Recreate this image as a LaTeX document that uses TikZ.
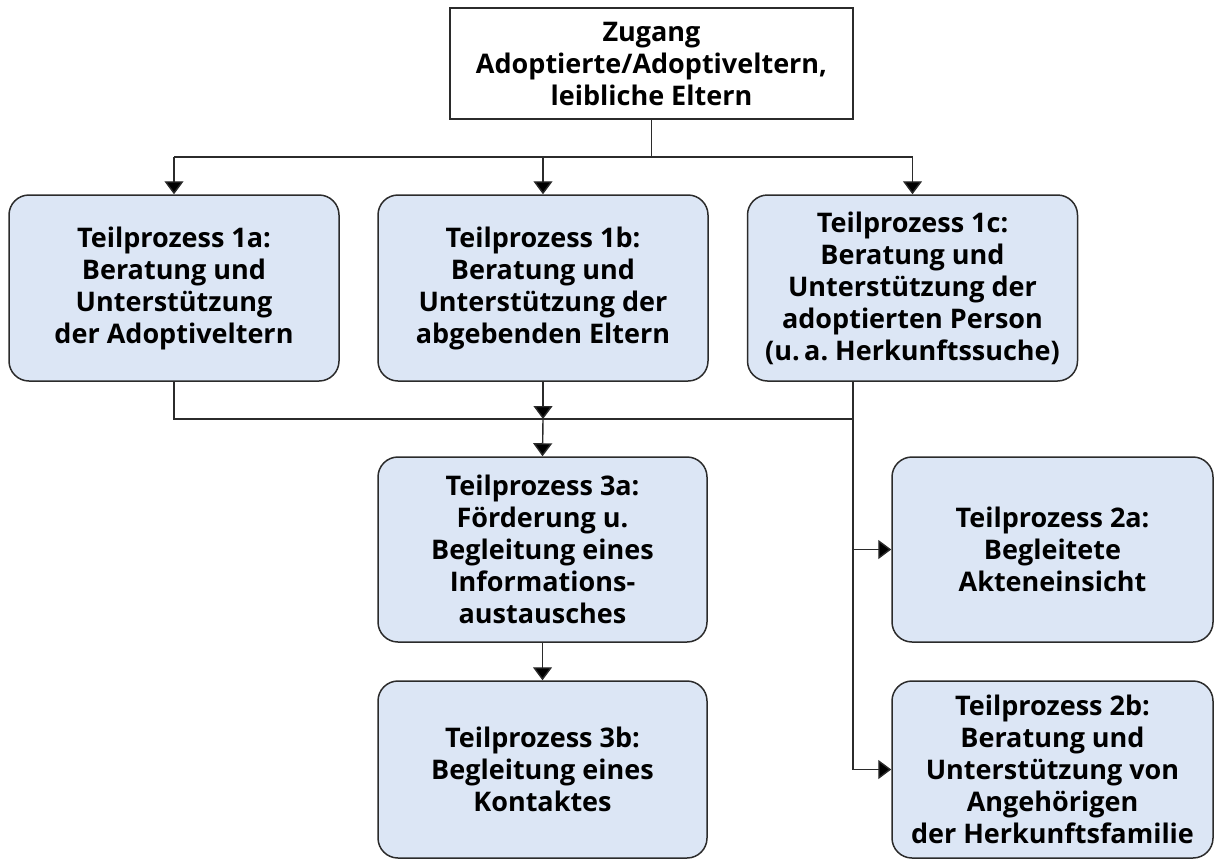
\documentclass[tikz,border=0pt]{standalone}
\usepackage{fontspec}
\setmainfont{Open Sans}
\usetikzlibrary{arrows.meta}

\definecolor{boxblue}{HTML}{DCE6F5}
\definecolor{linegray}{HTML}{2B2B2B}

\tikzset{
  procbox/.style={draw=linegray, line width=1.5pt, fill=boxblue, rounded corners=20pt,
    align=center, inner sep=4pt, font=\fontsize{27}{32}\selectfont\bfseries},
  startbox/.style={draw=linegray, line width=1.3pt, fill=white,
    align=center, inner sep=4pt, font=\fontsize{27}{32}\selectfont\bfseries},
  link/.style={draw=linegray, line width=1.4pt},
}

\begin{document}
\begin{tikzpicture}[x=1pt, y=-1pt, >={Triangle[width=19pt,length=13pt,fill=black]}]
  \useasboundingbox (0,0) rectangle (1214,860);

  \coordinate (busTop) at (0,157);
  \coordinate (busMid) at (0,419);

  \node[startbox, minimum width=403pt, minimum height=111pt] (zugang) at (651.5,63.5)
    {Zugang\\Adoptierte/Adoptiveltern,\\leibliche Eltern};

  \node[procbox, minimum width=330pt, minimum height=186pt] (tp1a) at (174,288)
    {Teilprozess 1a:\\Beratung und\\Unterstützung\\der Adoptiveltern};
  \node[procbox, minimum width=330pt, minimum height=186pt] (tp1b) at (543,288)
    {Teilprozess 1b:\\Beratung und\\Unterstützung der\\abgebenden Eltern};
  \node[procbox, minimum width=330pt, minimum height=186pt] (tp1c) at (912.5,288)
    {Teilprozess 1c:\\Beratung und\\Unterstützung der\\adoptierten Person\\(u.\,a.\ Herkunftssuche)};

  \node[procbox, minimum width=329pt, minimum height=185pt] (tp3a) at (542.5,549.5)
    {Teilprozess 3a:\\Förderung u.\\Begleitung eines\\Informations-\\austausches};
  \node[procbox, minimum width=329pt, minimum height=177pt] (tp3b) at (542.5,769.5)
    {Teilprozess 3b:\\Begleitung eines\\Kontaktes};

  \node[procbox, minimum width=321pt, minimum height=185pt] (tp2a) at (1052.5,549.5)
    {Teilprozess 2a:\\Begleitete\\Akteneinsicht};
  \node[procbox, minimum width=321pt, minimum height=177pt] (tp2b) at (1052.5,769.5)
    {Teilprozess 2b:\\Beratung und\\Unterstützung von\\Angehörigen\\der Herkunftsfamilie};

  \coordinate (drop) at (853,381);

  % verteilung nach oben
  \draw[link] (zugang.south) -- (zugang.south |- busTop);
  \draw[link] (tp1a.north |- busTop) -- (tp1c.north |- busTop);
  \draw[link,->] (tp1a.north |- busTop) -- (tp1a.north);
  \draw[link,->] (tp1b.north |- busTop) -- (tp1b.north);
  \draw[link,->] (tp1c.north |- busTop) -- (tp1c.north);

  % sammelleitung
  \draw[link] (tp1a.south) -- (tp1a.south |- busMid) -- (drop |- busMid);
  \draw[link,->] (tp1b.south) -- (tp1b.south |- busMid);
  \draw[link,->] (tp1b.south |- busMid) -- (tp3a.north);
  \draw[link] (drop) -- (drop |- tp2b.west);
  \draw[link,->] (drop |- tp2a.west) -- (tp2a.west);
  \draw[link,->] (drop |- tp2b.west) -- (tp2b.west);

  \draw[link,->] (tp3a.south) -- (tp3b.north);
\end{tikzpicture}
\end{document}
